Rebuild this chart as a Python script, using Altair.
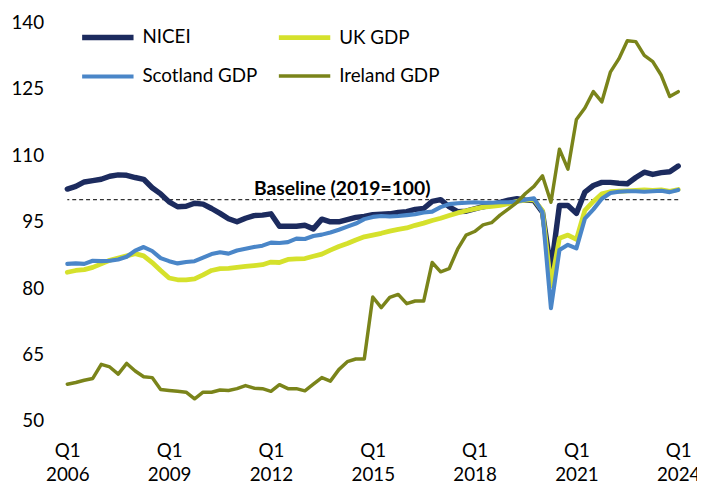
import altair as alt
import pandas as pd

# Quarters 2006 Q1 .. 2024 Q1
quarters = [f"{y} Q{q}" for y in range(2006, 2025) for q in range(1, 5)][:73]

nicei = [102.4, 103.0, 104.0, 104.3, 104.6, 105.3, 105.6, 105.5, 105.0, 104.6,
         102.7, 101.3, 99.5, 98.4, 98.5, 99.2, 99.0, 98.0, 96.9, 95.7,
         95.0, 95.8, 96.4, 96.5, 96.8, 94.0, 94.0, 94.0, 94.2, 93.4,
         95.6, 95.0, 95.0, 95.5, 96.0, 96.2, 96.6, 96.7, 96.8, 97.1,
         97.3, 97.8, 98.0, 99.6, 100.0, 98.4, 97.3, 97.4, 97.9, 98.4,
         98.8, 99.4, 99.9, 100.2, 99.9, 99.8, 97.2, 84.0, 98.7, 98.7,
         96.9, 101.7, 103.2, 103.9, 103.9, 103.7, 103.6, 105.0, 106.2, 105.7,
         106.1, 106.3, 107.6]

uk_gdp = [83.6, 84.0, 84.2, 84.7, 85.5, 86.3, 86.8, 87.3, 87.8, 87.3,
          85.8, 84.0, 82.3, 81.9, 81.9, 82.1, 83.0, 84.0, 84.4, 84.5,
          84.7, 84.9, 85.1, 85.3, 85.9, 85.8, 86.5, 86.6, 86.7, 87.2,
          87.7, 88.6, 89.4, 90.1, 90.9, 91.6, 92.0, 92.4, 92.9, 93.3,
          93.6, 94.2, 94.7, 95.3, 95.8, 96.4, 97.0, 97.5, 97.9, 98.3,
          98.5, 98.7, 99.1, 99.6, 99.9, 100.0, 97.5, 80.5, 91.3, 92.0,
          91.0, 97.6, 99.6, 101.3, 101.8, 101.9, 102.0, 102.1, 102.2, 102.1,
          102.2, 101.9, 102.3]

scotland_gdp = [85.5, 85.6, 85.5, 86.2, 86.1, 86.2, 86.5, 87.1, 88.5, 89.3,
                88.4, 86.8, 86.1, 85.6, 85.9, 86.1, 86.9, 87.7, 88.1, 87.8,
                88.5, 88.9, 89.3, 89.6, 90.3, 90.2, 90.4, 91.2, 91.1, 91.8,
                92.1, 92.6, 93.2, 93.9, 94.6, 95.6, 96.1, 96.3, 96.2, 96.3,
                96.5, 96.7, 97.1, 97.3, 98.3, 99.0, 99.2, 99.3, 99.4, 99.3,
                99.3, 99.4, 99.4, 99.6, 100.0, 100.3, 97.2, 75.5, 88.6, 89.8,
                89.0, 95.7, 97.8, 100.2, 101.5, 101.8, 101.9, 101.9, 101.8, 101.9,
                102.0, 101.7, 102.2]

ireland_gdp = [58.3, 58.7, 59.2, 59.6, 62.8, 62.2, 60.6, 63.0, 61.3, 60.0,
               59.8, 57.1, 56.9, 56.7, 56.5, 55.0, 56.5, 56.5, 57.0, 56.9,
               57.3, 58.0, 57.4, 57.3, 56.7, 58.2, 57.3, 57.3, 56.8, 58.3,
               59.8, 59.0, 61.6, 63.4, 64.0, 64.0, 78.0, 75.6, 77.9, 78.6,
               76.5, 77.1, 77.1, 85.8, 83.7, 84.4, 88.8, 92.0, 92.8, 94.3,
               94.8, 96.5, 97.9, 99.4, 101.4, 103.0, 105.4, 99.4, 111.4, 106.9,
               118.1, 120.7, 124.4, 122.1, 128.8, 131.8, 135.9, 135.7, 132.6, 131.2,
               128.1, 123.3, 124.4]

series_names = ["NICEI", "UK GDP", "Scotland GDP", "Ireland GDP"]
series_colors = ["#1C2B5E", "#D5E12C", "#4A86C8", "#7A841A"]
series_widths = [5.5, 3.5, 3.5, 3.5]

x_tick_years = ["2006", "2009", "2012", "2015", "2018", "2021", "2024"]
y_ticks = [50, 65, 80, 95, 110, 125, 140]

baseline_value = 100
baseline_label = "Baseline (2019=100)"
baseline_label_pos = 32.4

FONT = "Lato"

rows = []
for name, vals in zip(series_names, [nicei, uk_gdp, scotland_gdp, ireland_gdp]):
    for i, (q, v) in enumerate(zip(quarters, vals)):
        rows.append({"series": name, "idx": i, "quarter": q, "value": v})
df = pd.DataFrame(rows)

years_js = "[" + ",".join(f"'{y}'" for y in x_tick_years) + "]"

x_enc = alt.X(
    "idx:Q",
    scale=alt.Scale(domain=[0, len(quarters) - 1], nice=False, zero=False),
    axis=alt.Axis(
        values=[i * 12 for i in range(len(x_tick_years))],
        labelExpr=f"['Q1', {years_js}[round(datum.value/12)]]",
        title=None, domain=False, ticks=False, grid=False,
        labelFontSize=19, labelFont=FONT, labelColor="#000000",
        labelPadding=21, labelLineHeight=24, labelFlush=False,
    ),
)
y_enc = alt.Y(
    "value:Q",
    scale=alt.Scale(domain=[50, 140], nice=False, zero=False),
    axis=alt.Axis(
        values=y_ticks, title=None, domain=False, ticks=False, grid=False,
        labelFontSize=19, labelFont=FONT, labelColor="#000000",
        labelPadding=24,
    ),
)

legend_cfg = dict(
    title=None, orient="none", legendX=12, legendY=2, columns=2,
    direction="horizontal",
    symbolType="M-2.6,0H2.6", symbolSize=400, symbolOffset=16,
    labelOffset=22, labelFontSize=19, labelFont=FONT, labelColor="#000000",
    columnPadding=11, rowPadding=16, padding=0,
)

lines = alt.Chart(df).mark_line(strokeCap="round", strokeJoin="round").encode(
    x=x_enc,
    y=y_enc,
    color=alt.Color(
        "series:N",
        scale=alt.Scale(domain=series_names, range=series_colors),
        sort=series_names,
        legend=alt.Legend(**legend_cfg),
    ),
    strokeWidth=alt.StrokeWidth(
        "series:N",
        scale=alt.Scale(domain=series_names, range=series_widths),
        sort=series_names,
        legend=alt.Legend(**legend_cfg),
    ),
)

base_df = pd.DataFrame({"y": [baseline_value]})
rule = alt.Chart(base_df).mark_rule(
    strokeDash=[4, 3], color="#333333", strokeWidth=1.2
).encode(y=alt.Y("y:Q"))

txt_df = pd.DataFrame({"x": [baseline_label_pos], "y": [baseline_value], "t": [baseline_label]})
txt = alt.Chart(txt_df).mark_text(
    fontWeight="bold", fontSize=19.5, font=FONT, baseline="alphabetic", dy=-5, color="#000000"
).encode(x="x:Q", y="y:Q", text="t:N")

chart = alt.layer(rule, lines, txt).properties(
    width=618, height=403,
    autosize=alt.AutoSizeParams(type="none"),
    padding={"left": 60, "top": 12, "right": 19, "bottom": 62},
).configure_view(stroke=None)

chart.save("out.html", embed_options={"renderer": "svg", "actions": False})
